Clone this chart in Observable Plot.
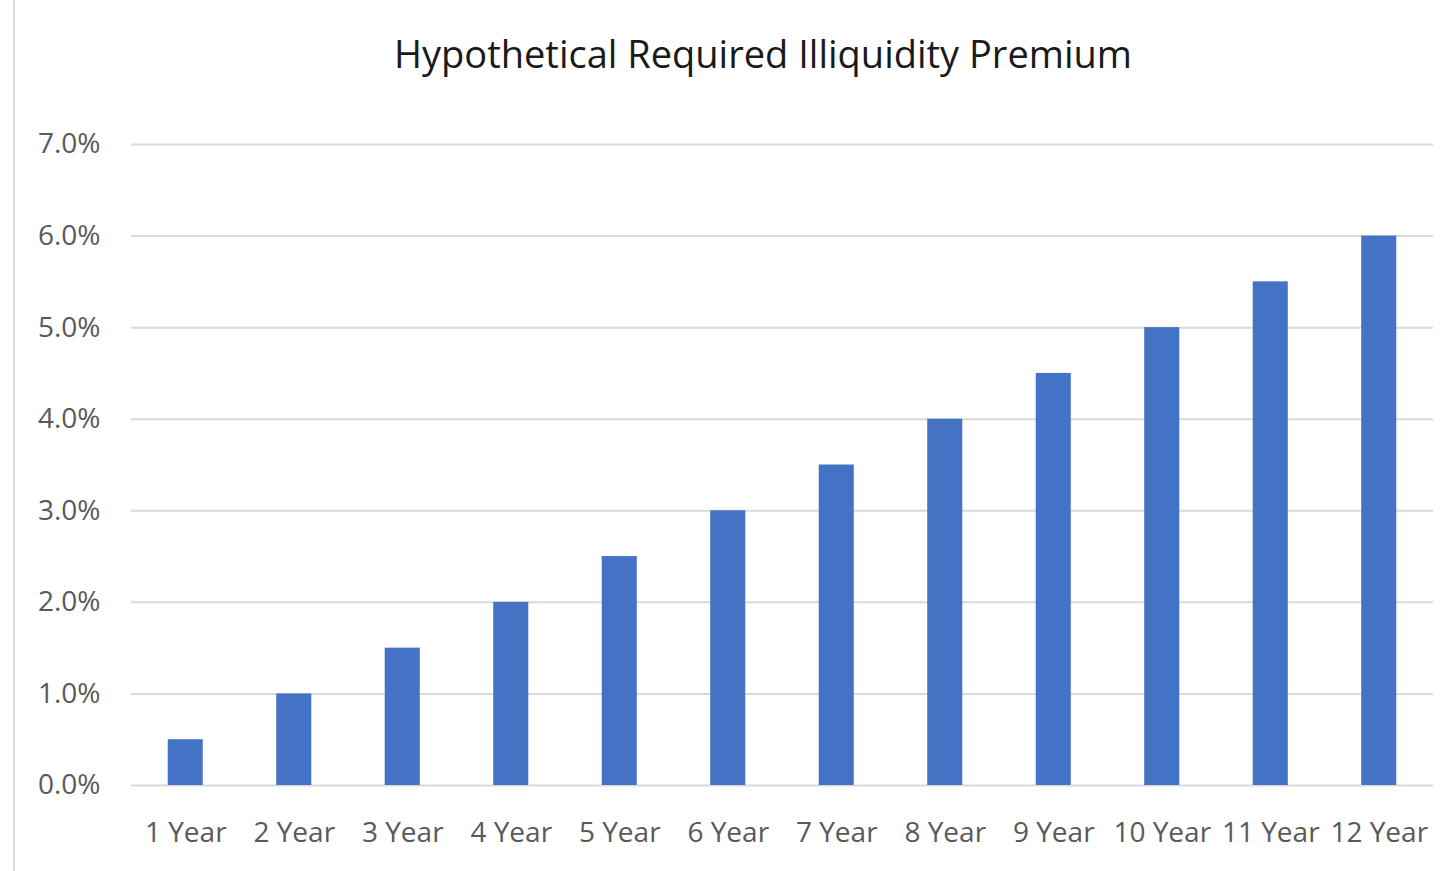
<!DOCTYPE html>
<html>
<head>
<meta charset="utf-8">
<script src="https://cdn.jsdelivr.net/npm/d3@7"></script>
<script src="https://cdn.jsdelivr.net/npm/@observablehq/plot@0.6"></script>
<style>
  html, body { margin: 0; padding: 0; background: #fff; }
  #wrap { position: relative; width: 1450px; height: 871px; overflow: hidden; font-family: "Open Sans", sans-serif; }
  #edge { position: absolute; left: 13px; top: 0; width: 2px; height: 871px; background: #dcdcdc; }
  #title { position: absolute; left: 0; top: 34px; width: 1450px; padding-left: 76px; box-sizing: border-box;
           text-align: center; font-size: 38px; line-height: 38px; color: #1a1a1a; white-space: nowrap; }
  #chart { position: absolute; left: 0; top: 100px; }
</style>
</head>
<body>
<div id="wrap">
  <div id="edge"></div>
  <div id="title">Hypothetical Required Illiquidity Premium</div>
  <div id="chart"></div>
</div>
<script>
// Holding period categories and the premium required for each (fraction)
const periods = ["1 Year", "2 Year", "3 Year", "4 Year", "5 Year", "6 Year",
                 "7 Year", "8 Year", "9 Year", "10 Year", "11 Year", "12 Year"];
const premiums = [0.005, 0.010, 0.015, 0.020, 0.025, 0.030,
                  0.035, 0.040, 0.045, 0.050, 0.055, 0.060];
const yTicks = [0, 0.01, 0.02, 0.03, 0.04, 0.05, 0.06, 0.07];

const rows = periods.map((p, i) => ({period: p, premium: premiums[i]}));

const chart = Plot.plot({
  width: 1450,
  height: 771,
  marginLeft: 131,
  marginRight: 17,
  marginTop: 44,
  marginBottom: 86,
  style: {fontFamily: "'Open Sans', sans-serif", fontSize: "28px", color: "#595959", background: "transparent"},
  x: {
    domain: periods,
    round: false,
    paddingInner: 0.677,
    paddingOuter: 0.3385,
    label: null,
    tickSize: 0,
    tickPadding: 37
  },
  y: {
    domain: [0, 0.07],
    ticks: yTicks,
    tickFormat: d3.format(".1%"),
    label: null,
    tickSize: 0,
    tickPadding: 31
  },
  marks: [
    Plot.ruleY(yTicks, {stroke: "#d9d9d9", strokeWidth: 2}),
    Plot.barY(rows, {x: "period", y: "premium", fill: "#4472c4"})
  ]
});
document.getElementById("chart").appendChild(chart);
</script>
</body>
</html>
